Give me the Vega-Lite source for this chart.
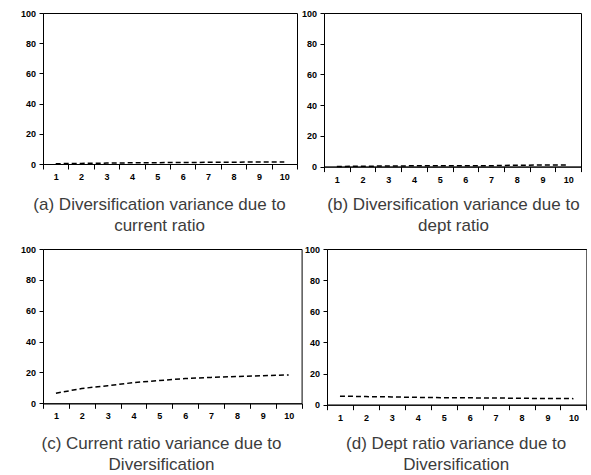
{
  "$schema": "https://vega.github.io/schema/vega-lite/v6.json",
  "background": "white",
  "padding": {"left": 10, "top": 8, "right": 0, "bottom": 0},
  "data": {"values": [
    {"panel": "a", "period": 1, "value": 0.2}, {"panel": "a", "period": 2, "value": 0.4}, {"panel": "a", "period": 3, "value": 0.6}, {"panel": "a", "period": 4, "value": 0.8}, {"panel": "a", "period": 5, "value": 0.9},
    {"panel": "a", "period": 6, "value": 1.0}, {"panel": "a", "period": 7, "value": 1.1}, {"panel": "a", "period": 8, "value": 1.2}, {"panel": "a", "period": 9, "value": 1.3}, {"panel": "a", "period": 10, "value": 1.4},
    {"panel": "b", "period": 1, "value": 0.1}, {"panel": "b", "period": 2, "value": 0.2}, {"panel": "b", "period": 3, "value": 0.4}, {"panel": "b", "period": 4, "value": 0.5}, {"panel": "b", "period": 5, "value": 0.5},
    {"panel": "b", "period": 6, "value": 0.5}, {"panel": "b", "period": 7, "value": 0.6}, {"panel": "b", "period": 8, "value": 0.9}, {"panel": "b", "period": 9, "value": 1.0}, {"panel": "b", "period": 10, "value": 1.0},
    {"panel": "c", "period": 1, "value": 6.5}, {"panel": "c", "period": 2, "value": 9.6}, {"panel": "c", "period": 3, "value": 11.4}, {"panel": "c", "period": 4, "value": 13.4}, {"panel": "c", "period": 5, "value": 14.8},
    {"panel": "c", "period": 6, "value": 16.0}, {"panel": "c", "period": 7, "value": 16.8}, {"panel": "c", "period": 8, "value": 17.4}, {"panel": "c", "period": 9, "value": 17.9}, {"panel": "c", "period": 10, "value": 18.4},
    {"panel": "d", "period": 1, "value": 5.5}, {"panel": "d", "period": 2, "value": 5.2}, {"panel": "d", "period": 3, "value": 5.0}, {"panel": "d", "period": 4, "value": 4.7}, {"panel": "d", "period": 5, "value": 4.5},
    {"panel": "d", "period": 6, "value": 4.4}, {"panel": "d", "period": 7, "value": 4.3}, {"panel": "d", "period": 8, "value": 4.1}, {"panel": "d", "period": 9, "value": 4.0}, {"panel": "d", "period": 10, "value": 3.9}
  ]},
  "config": {
    "view": {"stroke": "black", "strokeWidth": 1},
    "axis": {
      "grid": false,
      "domainColor": "black",
      "tickColor": "black",
      "tickSize": 4,
      "labelColor": "black",
      "labelFont": "Liberation Sans",
      "labelFontSize": 9,
      "labelFontWeight": "bold",
      "titleFont": "Liberation Sans",
      "titleFontSize": 17,
      "titleFontWeight": "normal",
      "titleColor": "#3c3c3c",
      "titleLineHeight": 21
    },
    "axisX": {"labelPadding": 3.5, "labelAngle": 0, "tickBand": "extent", "tickSize": 5},
    "axisY": {"labelPadding": 3.5}
  },
  "spacing": 9,
  "vconcat": [
    {
      "spacing": 0,
      "hconcat": [
        {
          "width": 254, "height": 151,
          "transform": [{"filter": "datum.panel === 'a'"}],
          "mark": {"type": "line", "color": "black", "strokeDash": [5, 3], "strokeWidth": 1.5},
          "encoding": {
            "x": {"field": "period", "type": "ordinal", "scale": {"type": "band", "paddingInner": 0, "paddingOuter": 0},
              "axis": {"title": ["(a) Diversification variance due to", "current ratio"], "titleX": 116, "titleY": 45, "titleBaseline": "alphabetic"}},
            "y": {"field": "value", "type": "quantitative", "scale": {"domain": [0, 100]},
              "axis": {"values": [0, 20, 40, 60, 80, 100], "title": null, "minExtent": 32, "maxExtent": 32}}
          }
        },
        {
          "width": 257, "height": 153.6,
          "transform": [{"filter": "datum.panel === 'b'"}],
          "mark": {"type": "line", "color": "black", "strokeDash": [5, 3], "strokeWidth": 1.5},
          "encoding": {
            "x": {"field": "period", "type": "ordinal", "scale": {"type": "band", "paddingInner": 0, "paddingOuter": 0},
              "axis": {"title": ["(b) Diversification variance due to", "dept ratio"], "titleX": 129, "titleY": 43, "titleBaseline": "alphabetic"}},
            "y": {"field": "value", "type": "quantitative", "scale": {"domain": [0, 100]},
              "axis": {"values": [0, 20, 40, 60, 80, 100], "title": null, "minExtent": 25.4, "maxExtent": 25.4}}
          }
        }
      ]
    },
    {
      "spacing": 0,
      "hconcat": [
        {
          "width": 258.6, "height": 154.3,
          "transform": [{"filter": "datum.panel === 'c'"}],
          "mark": {"type": "line", "color": "black", "strokeDash": [5, 3], "strokeWidth": 1.5},
          "encoding": {
            "x": {"field": "period", "type": "ordinal", "scale": {"type": "band", "paddingInner": 0, "paddingOuter": 0},
              "axis": {"title": ["(c) Current ratio variance due to", "Diversification"], "titleX": 118, "titleY": 45, "titleBaseline": "alphabetic"}},
            "y": {"field": "value", "type": "quantitative", "scale": {"domain": [0, 100]},
              "axis": {"values": [0, 20, 40, 60, 80, 100], "title": null, "minExtent": 26.7, "maxExtent": 26.7}}
          }
        },
        {
          "width": 259.4, "height": 155.7,
          "transform": [{"filter": "datum.panel === 'd'"}],
          "mark": {"type": "line", "color": "black", "strokeDash": [5, 3], "strokeWidth": 1.5},
          "encoding": {
            "x": {"field": "period", "type": "ordinal", "scale": {"type": "band", "paddingInner": 0, "paddingOuter": 0},
              "axis": {"title": ["(d) Dept ratio variance due to", "Diversification"], "titleX": 128.7, "titleY": 44, "titleBaseline": "alphabetic"}},
            "y": {"field": "value", "type": "quantitative", "scale": {"domain": [0, 100]},
              "axis": {"values": [0, 20, 40, 60, 80, 100], "title": null, "minExtent": 23.3, "maxExtent": 23.3}}
          }
        }
      ]
    }
  ]
}
